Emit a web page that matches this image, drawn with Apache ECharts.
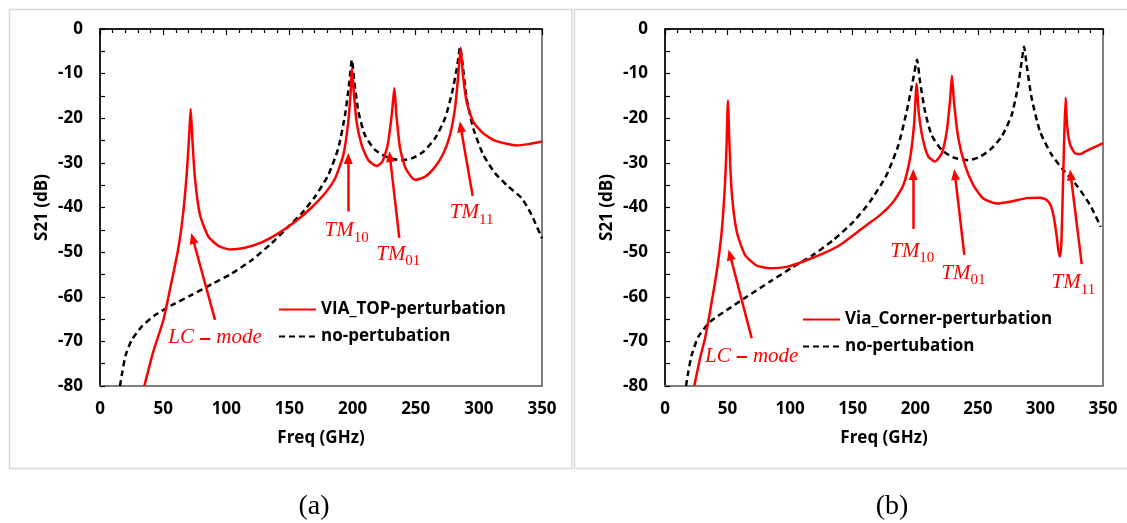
<!DOCTYPE html>
<html><head><meta charset="utf-8">
<script src="https://cdn.jsdelivr.net/npm/echarts@6/dist/echarts.min.js"></script>
<style>html,body{margin:0;padding:0;background:#fff}#c{width:1127px;height:523px}</style>
</head><body><div id="c"></div>
<script>
// ---------- data (Freq GHz, S21 dB) ----------
const viaTop = [[35.1,-80],[42.2,-72.3],[50.2,-65.2],[56.7,-56.6],[62.0,-49.2],[66.0,-40.9],[68.6,-32.7],[70.5,-24.5],[71.8,-17.9],[73.1,-24.5],[75.2,-33.5],[79.2,-41.7],[85.8,-46.5],[93.7,-48.6],[102.9,-49.4],[114.8,-49.0],[128.0,-47.8],[141.2,-45.8],[154.4,-43.2],[167.6,-40.0],[178.2,-36.8],[186.1,-33.5],[192.7,-28.2],[196.6,-20.8],[198.5,-14.0],[199.5,-8.8],[200.9,-14.0],[203.2,-20.8],[207.2,-26.0],[212.5,-29.4],[219.1,-30.7],[223.6,-29.7],[227.8,-26.0],[231.0,-19.3],[233.1,-13.3],[234.7,-19.3],[237.6,-26.7],[242.0,-31.2],[249.4,-33.8],[257.4,-33.1],[265.3,-30.9],[271.9,-27.9],[277.1,-23.8],[281.1,-17.8],[283.7,-10.3],[285.6,-4.2],[287.4,-10.3],[290.3,-16.3],[295.6,-20.8],[303.5,-23.4],[312.8,-25.0],[329.9,-26.1],[339.2,-25.8],[350.0,-25.2]];
const noPertA = [[15.8,-80],[17.7,-76.8],[20.3,-73.1],[25.1,-69.7],[33.0,-66.7],[43.6,-64.1],[56.7,-61.9],[72.6,-59.6],[88.4,-57.2],[104.3,-54.8],[120.1,-51.8],[135.9,-48.0],[149.1,-44.3],[159.7,-41.3],[170.2,-37.6],[180.8,-32.7],[188.7,-26.7],[194.0,-19.3],[197.2,-12.5],[199.5,-6.9],[201.4,-11.8],[204.6,-18.5],[209.8,-23.8],[217.8,-27.1],[228.3,-28.8],[238.9,-29.4],[246.8,-29.0],[256.0,-27.5],[265.3,-24.5],[273.2,-20.0],[279.0,-14.0],[283.0,-8.1],[285.1,-4.0],[287.2,-8.1],[290.3,-15.5],[295.6,-22.3],[303.5,-28.2],[312.8,-32.3],[323.3,-35.3],[333.9,-37.9],[341.8,-41.7],[350.0,-46.9]];
const viaCorner = [[23.4,-80],[28.0,-73.8],[32.0,-69.3],[36.0,-63.3],[41.3,-54.4],[45.3,-45.4],[47.9,-35.0],[49.3,-25.2],[50.3,-16.1],[51.4,-25.2],[53.3,-36.5],[57.3,-45.4],[63.9,-50.6],[73.2,-53.0],[83.9,-53.6],[97.2,-53.3],[110.5,-52.1],[126.5,-50.3],[139.8,-48.4],[150.5,-46.2],[161.2,-43.9],[171.8,-41.7],[182.5,-38.7],[190.4,-35.0],[195.8,-29.0],[199.0,-21.5],[201.1,-12.2],[202.7,-18.5],[205.9,-24.5],[210.4,-28.6],[215.7,-29.7],[221.1,-27.9],[225.1,-23.0],[227.7,-16.3],[229.3,-10.5],[230.9,-16.3],[234.4,-24.5],[239.7,-30.5],[246.4,-35.0],[254.4,-38.0],[265.0,-39.1],[275.7,-38.7],[289.0,-37.9],[299.7,-37.8],[305.0,-38.3],[308.3,-39.6],[310.6,-42.0],[312.6,-45.6],[314.3,-49.5],[315.6,-51.0],[316.8,-47.5],[318.0,-35.0],[319.2,-22.5],[320.2,-15.4],[321.3,-21.5],[323.6,-25.8],[327.5,-27.8],[332.0,-28.0],[335.6,-27.5],[342.3,-26.6],[350.0,-25.6]];
const noPertB = [[16.8,-80],[18.6,-76.8],[21.3,-73.1],[26.6,-69.0],[36.0,-65.6],[49.3,-63.0],[65.3,-60.0],[83.9,-56.6],[102.5,-53.3],[118.5,-50.6],[134.5,-47.3],[150.5,-43.2],[163.8,-38.7],[177.1,-32.7],[186.5,-26.0],[193.1,-18.5],[198.4,-11.1],[201.4,-6.9],[203.8,-11.8],[207.8,-18.5],[213.1,-23.8],[221.1,-27.1],[230.4,-28.8],[242.4,-29.4],[250.4,-28.8],[259.7,-27.1],[269.0,-24.1],[277.0,-19.3],[282.3,-12.5],[285.0,-7.3],[286.9,-4.0],[289.0,-8.1],[293.0,-15.5],[299.7,-23.0],[309.0,-28.2],[318.3,-31.6],[328.9,-35.0],[339.6,-39.4],[348.1,-44.3]];

// annotations: arrows [tail, head] and label anchors, in data coords
const arrowsA = [[[91.1,-65.2],[73.4,-46.9]],[[196.6,-40.9],[196.6,-29.0]],[[237.0,-46.8],[229.6,-28.6]],[[295.1,-37.4],[285.6,-21.9]]];
const labelsA = [[91.1,-69.3,'LC'],[195.3,-45.3,'10'],[236.2,-50.6,'01'],[294.3,-41.3,'11']];
const arrowsB = [[[69.3,-69.3],[51.9,-50.6]],[[198.4,-44.8],[198.4,-32.6]],[[239.2,-50.6],[231.7,-32.6]],[[333.0,-52.7],[324.2,-32.7]]];
const labelsB = [[69.3,-73.4,'LC'],[197.6,-49.9,'10'],[238.4,-54.8,'01'],[326.3,-57.0,'11']];

const xTickRange = {min:0, max:350, interval:50};
const yTickRange = {min:-80, max:0, interval:10};
const seriesNames = {a:'VIA_TOP-perturbation', b:'Via_Corner-perturbation', ref:'no-pertubation'};

// ---------- styling ----------
const RED = '#ff0000';
const FONT = 'Open Sans';
const lblStyle = {fontFamily:FONT, fontWeight:'bold', fontSize:17, color:'#000'};
const rich = {
  it:{fontFamily:'Liberation Serif', fontStyle:'italic', fontSize:21, color:RED, lineHeight:22, verticalAlign:'top'},
  mi:{fontFamily:'Liberation Sans', fontWeight:'bold', fontSize:21, color:RED, lineHeight:22, verticalAlign:'top'},
  sp:{fontFamily:'Liberation Serif', fontSize:21, lineHeight:22, verticalAlign:'top'},
  sub:{fontFamily:'Liberation Serif', fontSize:15, color:RED, lineHeight:15, verticalAlign:'top', padding:[10,0,0,0]}
};
function labelText(k){ return k==='LC' ? '{it|LC}{sp| }{mi|\u2013}{sp| }{it|mode}' : '{it|TM}{sub|'+k+'}'; }

const grids = [
  {left:100, top:29, width:442, height:357},
  {left:665, top:29, width:438, height:357}
];
const xAxes = [], yAxes = [];
grids.forEach((g,i)=>{
  xAxes.push({gridIndex:i, type:'value', position:'bottom', min:xTickRange.min, max:xTickRange.max, interval:xTickRange.interval,
    name:'Freq (GHz)', nameLocation:'middle', nameGap:44, nameTextStyle:lblStyle,
    axisLine:{show:true, onZero:false, lineStyle:{color:'#7f7f7f', width:2}}, axisTick:{show:false},
    axisLabel:Object.assign({margin:15}, lblStyle), splitLine:{show:false}});
  xAxes.push({gridIndex:i, type:'value', position:'top', min:xTickRange.min, max:xTickRange.max, interval:xTickRange.interval,
    axisLine:{show:true, onZero:false, lineStyle:{color:'#000', width:1.5}},
    axisTick:{show:true, inside:true, length:6, lineStyle:{color:'#000', width:1.2}},
    minorTick:{show:true, splitNumber:5, length:4, lineStyle:{color:'#000', width:1.2}},
    axisLabel:{show:false}, splitLine:{show:false}});
  yAxes.push({gridIndex:i, type:'value', position:'left', min:yTickRange.min, max:yTickRange.max, interval:yTickRange.interval,
    name:'S21 (dB)', nameLocation:'middle', nameRotate:90, nameGap:49, nameTextStyle:lblStyle,
    axisLine:{show:true, onZero:false, lineStyle:{color:'#000', width:1.5}},
    axisTick:{show:true, inside:true, length:5, lineStyle:{color:'#000', width:1.2}},
    minorTick:{show:true, splitNumber:2, length:5, lineStyle:{color:'#000', width:1.2}},
    axisLabel:Object.assign({margin:17}, lblStyle), splitLine:{show:false}});
});

function annot(arrows, labels){
  return {
    markLine:{silent:true, animation:false, symbol:['none','triangle'], symbolSize:[9,11],
      lineStyle:{color:RED, width:2.5, type:'solid'}, label:{show:false}, emphasis:{disabled:true},
      data: arrows.map(a=>[{coord:a[0]},{coord:a[1]}])},
    markPoint:{silent:true, animation:false, symbol:'circle', symbolSize:1, itemStyle:{color:'rgba(0,0,0,0)'},
      label:{show:true, position:'inside', rich:rich, formatter:p=>labelText(p.name)},
      data: labels.map(l=>({coord:[l[0],l[1]], name:l[2]}))}
  };
}
function redSeries(name, data, xi, yi, arrows, labels){
  return Object.assign({type:'line', name, data, xAxisIndex:xi, yAxisIndex:yi, symbol:'none', smooth:0.2,
    lineStyle:{color:RED, width:2.5}, itemStyle:{color:RED}, z:3, animation:false}, annot(arrows, labels));
}
function refSeries(data, xi, yi){
  return {type:'line', name:seriesNames.ref, data, xAxisIndex:xi, yAxisIndex:yi, symbol:'none', smooth:0.2,
    lineStyle:{color:'#000', width:2.5, type:[6,4]}, itemStyle:{color:'#000'}, z:2, animation:false};
}

const legendCommon = {orient:'vertical', itemWidth:37, itemHeight:14, itemGap:10, selectedMode:false,
  itemStyle:{color:'rgba(0,0,0,0)', borderColor:'rgba(0,0,0,0)', borderWidth:0},
  textStyle:Object.assign({lineHeight:14}, lblStyle), padding:0};

const chart = echarts.init(document.getElementById('c'), null, {renderer:'canvas'});
chart.setOption({
  animation:false,
  backgroundColor:'#fff',
  grid: grids.map(g=>Object.assign({show:true, borderColor:'#7f7f7f', borderWidth:2, backgroundColor:'transparent'}, g)),
  xAxis: xAxes,
  yAxis: yAxes,
  legend:[
    Object.assign({left:278, top:301, data:[seriesNames.a, seriesNames.ref]}, legendCommon),
    Object.assign({left:802, top:311, data:[seriesNames.b, seriesNames.ref]}, legendCommon)
  ],
  series:[
    refSeries(noPertA, 0, 0),
    redSeries(seriesNames.a, viaTop, 0, 0, arrowsA, labelsA),
    refSeries(noPertB, 2, 1),
    redSeries(seriesNames.b, viaCorner, 2, 1, arrowsB, labelsB)
  ],
  graphic:[
    {type:'rect', silent:true, z:-1, shape:{x:9.5, y:9.5, width:562.5, height:459}, style:{fill:'none', stroke:'#d9d9d9', lineWidth:1.5}},
    {type:'rect', silent:true, z:-1, shape:{x:574.5, y:9.5, width:560, height:459}, style:{fill:'none', stroke:'#d9d9d9', lineWidth:1.5}},
    {type:'text', silent:true, style:{x:314, y:507, text:'(a)', fontFamily:'Liberation Serif', fontSize:28, fill:'#000', textAlign:'center', textVerticalAlign:'middle'}},
    {type:'text', silent:true, style:{x:892, y:507, text:'(b)', fontFamily:'Liberation Serif', fontSize:28, fill:'#000', textAlign:'center', textVerticalAlign:'middle'}}
  ]
});
</script></body></html>
